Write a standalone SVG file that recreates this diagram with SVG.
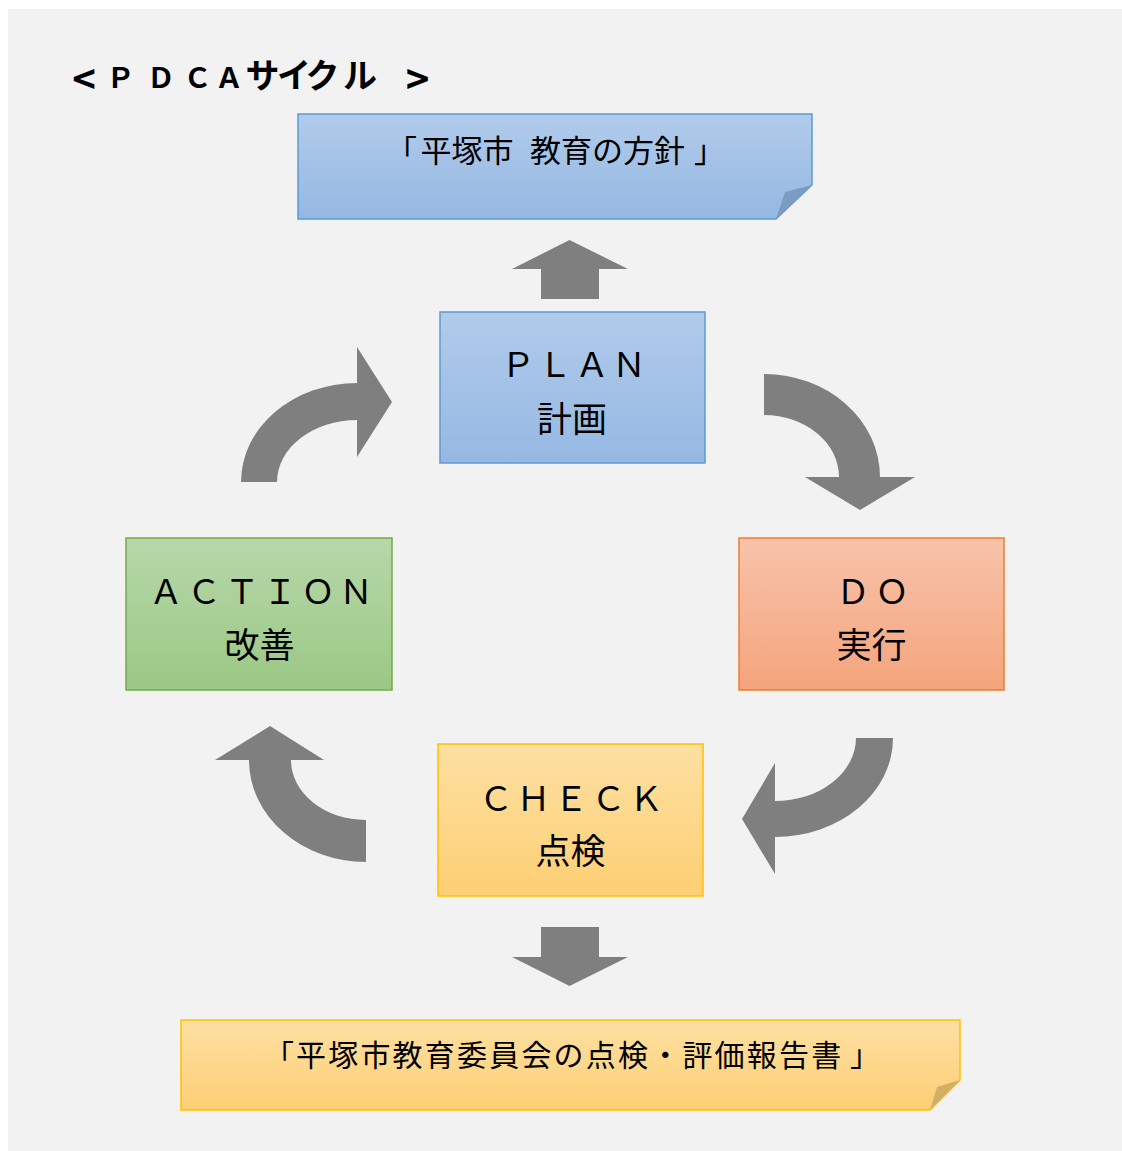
<svg xmlns="http://www.w3.org/2000/svg" width="1122" height="1151" viewBox="0 0 1122 1151">
<defs>
<linearGradient id="gBlue" x1="0" y1="0" x2="0" y2="1"><stop offset="0" stop-color="#b1cbeb"/><stop offset="1" stop-color="#95b8e2"/></linearGradient>
<linearGradient id="gOrange" x1="0" y1="0" x2="0" y2="1"><stop offset="0" stop-color="#f8c3ab"/><stop offset="1" stop-color="#f4a47c"/></linearGradient>
<linearGradient id="gGreen" x1="0" y1="0" x2="0" y2="1"><stop offset="0" stop-color="#b7d7a9"/><stop offset="1" stop-color="#9bc885"/></linearGradient>
<linearGradient id="gYellow" x1="0" y1="0" x2="0" y2="1"><stop offset="0" stop-color="#fee0a2"/><stop offset="1" stop-color="#fdcf74"/></linearGradient>
<style>
.lbl{font-family:"Noto Sans CJK JP","Noto Sans",sans-serif;font-size:34px;fill:#000}
.lat{text-anchor:middle}
.cjk{font-size:35px;text-anchor:middle}
.note{font-family:"Noto Sans CJK JP","Noto Sans",sans-serif;font-size:31px;fill:#000}
.title{font-family:"Noto Sans CJK JP","Noto Sans",sans-serif;font-weight:bold;fill:#000;text-anchor:middle}
.arrow{fill:#7f7f7f}
</style>
</defs>
<rect x="0" y="0" width="1122" height="1151" fill="#ffffff"/>
<rect x="8" y="9" width="1114" height="1142" fill="#f2f2f2"/>

<g id="title">
<text class="title" y="88"><tspan x="84" y="94" style="font-size:40px">&lt;</tspan><tspan x="120.5 161 197.5 229" y="88" style="font-size:28px">ＰＤＣＡ</tspan><tspan x="262.5 294 322.5 360" style="font-size:34px">サイクル</tspan><tspan x="417.5" y="94" style="font-size:40px">&gt;</tspan></text>
</g>

<g id="note-policy">
<polygon points="298,114 812,114 812,185 776,219 298,219" fill="url(#gBlue)" stroke="#5b9bd5" stroke-width="1.5"/>
<polygon points="776,219 785,192 812,185" fill="#7c9bc3"/>
<text class="note" y="162"><tspan x="386">「</tspan><tspan x="420.5">平塚市 </tspan><tspan x="530">教育の方針</tspan><tspan x="694">」</tspan></text>
</g>

<g id="plan">
<rect x="440" y="312" width="265" height="151" fill="url(#gBlue)" stroke="#5b9bd5" stroke-width="1.5"/>
<text class="lbl lat" y="377" x="518 555 592 629">ＰＬＡＮ</text>
<text class="lbl cjk" x="572" y="432">計画</text>
</g>

<g id="do">
<rect x="739" y="538" width="265" height="152" fill="url(#gOrange)" stroke="#ed7d31" stroke-width="1.5"/>
<text class="lbl lat" y="604" x="853 892">ＤＯ</text>
<text class="lbl cjk" x="871.5" y="658">実行</text>
</g>

<g id="check">
<rect x="438" y="744" width="265" height="152" fill="url(#gYellow)" stroke="#ffc000" stroke-width="1.5"/>
<text class="lbl lat" y="811" x="496 533.5 571 608.5 646">ＣＨＥＣＫ</text>
<text class="lbl cjk" x="570.5" y="864">点検</text>
</g>

<g id="action">
<rect x="126" y="538" width="266" height="152" fill="url(#gGreen)" stroke="#70ad47" stroke-width="1.5"/>
<text class="lbl lat" y="604" x="166 204 242 280 318 356">ＡＣＴＩＯＮ</text>
<text class="lbl cjk" x="259.5" y="658">改善</text>
</g>

<g id="note-report">
<polygon points="181,1020 960,1020 960,1080 930,1110 181,1110" fill="url(#gYellow)" stroke="#ffc000" stroke-width="1.5"/>
<polygon points="930,1110 937,1087 960,1080" fill="#d2ae66"/>
<text class="note" y="1066" style="font-size:30px"><tspan x="264">「</tspan><tspan x="296" style="letter-spacing:2.2px">平塚市教育委員会の点検・評価報告書</tspan><tspan x="850">」</tspan></text>
</g>

<g id="connectors">
<polygon class="arrow" points="569.5,240 628,269 599,269 599,299 541,299 541,269 512,269"/>
<polygon class="arrow" points="569.5,986 628,957 599,957 599,927 541,927 541,957 512,957"/>
<path class="arrow" d="M241,482 A116,99 0 0 1 357,383 L357,347 L392,402 L357,457 L357,420 A80,62 0 0 0 277,482 Z"/>
<path class="arrow" d="M764,374 A116,103 0 0 1 880,477 L915,477 L860,510 L805,477 L839,477 A75,62 0 0 0 764,415 Z"/>
<path class="arrow" d="M893,738 A118,99 0 0 1 775,837 L775,874 L742,819 L775,763 L775,801 A81,63 0 0 0 856,738 Z"/>
<path class="arrow" d="M366,862 A117,102 0 0 1 249,760 L215,760 L270,726 L324,760 L291,760 A75,60 0 0 0 366,820 Z"/>
</g>
</svg>
